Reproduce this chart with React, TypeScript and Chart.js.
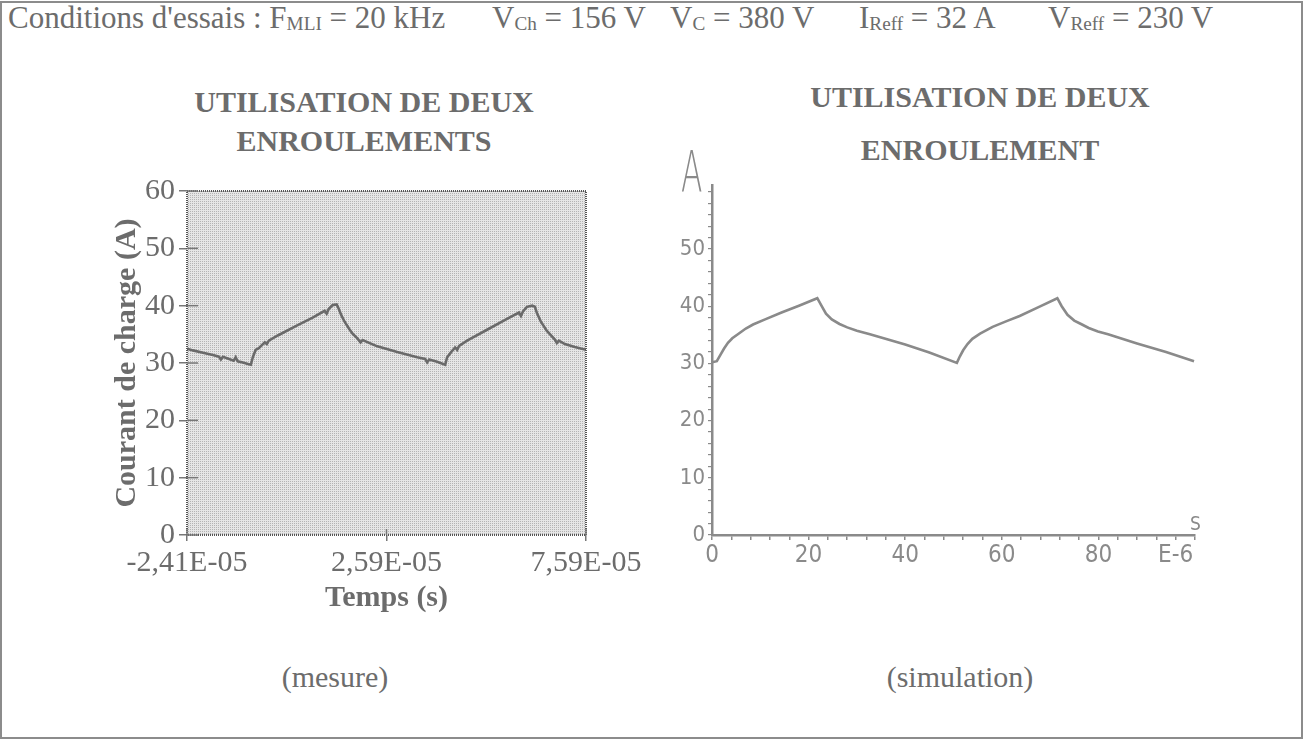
import React, { useEffect, useRef } from "react";
import { Chart, registerables } from "chart.js";

Chart.register(...registerables);

// ---------- Data: measured current (left), time in µs ----------
const measTime = [
  -24.1, -22.6, -20.1, -17.6, -16.1, -15.6, -15.1, -13.9, -12.4, -11.9, -11.4, -10.1, -8.6, -8.1,
  -7.6, -6.9, -6.1, -4.6, -4.1, -3.6, -1.35, 3.65, 7.4, 10.4, 10.9, 11.4, 12.4, 13.4, 13.9, 14.6,
  15.4, 16.6, 17.4, 18.6, 19.4, 19.9, 23.6, 28.6, 33.6, 35.6, 36.1, 36.6, 38.6, 40.6, 41.1, 42.1,
  43.1, 43.6, 44.1, 46.1, 51.1, 56.1, 59.1, 59.6, 60.1, 61.1, 62.4, 63.1, 63.6, 64.6, 66.1, 68.1,
  68.6, 69.1, 70.6, 73.1, 75.9,
];
const measCurrent = [
  32.5, 32.2, 31.8, 31.4, 31.1, 30.6, 31.1, 30.8, 30.4, 31.0, 30.3, 30.1, 29.8, 29.7,
  31.0, 32.3, 32.6, 33.6, 33.3, 33.9, 34.8, 36.6, 37.9, 39.1, 38.6, 39.4, 40.1, 40.2, 39.5, 38.3,
  37.2, 35.9, 35.1, 34.3, 33.6, 34.0, 32.9, 31.9, 31.0, 30.7, 30.1, 30.6, 30.2, 29.7, 31.0, 31.9,
  32.7, 32.3, 33.0, 33.9, 35.8, 37.7, 38.8, 38.2, 39.0, 39.8, 40.0, 39.8, 38.7, 37.2, 35.6, 34.1,
  33.5, 33.9, 33.3, 32.8, 32.3,
];
const measXTicks = [-24.1, 25.9, 75.9];
const measXTickLabels = ["-2,41E-05", "2,59E-05", "7,59E-05"];
const measYTicks = [0, 10, 20, 30, 40, 50, 60];

// ---------- Data: simulated current (right), time in µs ----------
const simTime = [
  0, 1, 1.8, 2.5, 3.3, 4.2, 5.5, 7, 8.5, 11, 14.4, 18, 21.8, 22.6, 23.6, 24.8, 26.4, 28, 30, 32.7,
  40, 45, 50.7, 51.3, 52, 52.9, 53.9, 55.5, 58.1, 61, 63.7, 67.5, 71.5, 72.4, 73.6, 75, 76.4, 78,
  79.9, 82, 88, 94, 99.8,
];
const simCurrent = [
  30.2, 30.4, 31.6, 32.6, 33.6, 34.4, 35.2, 36.1, 36.8, 37.7, 38.9, 40.1, 41.4, 40.2, 38.7, 37.7,
  36.9, 36.3, 35.7, 35.1, 33.3, 31.9, 30.1, 31.2, 32.3, 33.4, 34.3, 35.2, 36.4, 37.4, 38.3, 39.8,
  41.4, 40.0, 38.5, 37.5, 36.9, 36.2, 35.6, 35.1, 33.5, 32.0, 30.4,
];
const simXTicks = [0, 4, 8, 12, 16, 20, 24, 28, 32, 36, 40, 44, 48, 52, 56, 60, 64, 68, 72, 76, 80, 84, 88, 92, 96, 100];
const simXTickLabels: Record<number, string> = { 0: "0", 20: "20", 40: "40", 60: "60", 80: "80", 96: "E-6" };
const simYTicks = [0, 2, 4, 6, 8, 10, 12, 14, 16, 18, 20, 22, 24, 26, 28, 30, 32, 34, 36, 38, 40, 42, 44, 46, 48, 50, 52, 54, 56, 58, 60];
const simYTickLabels: Record<number, string> = { 0: "0", 10: "10", 20: "20", 30: "30", 40: "40", 50: "50" };

const SERIF = "'Liberation Serif', 'Times New Roman', serif";
const SANS = "'DejaVu Sans Condensed', 'DejaVu Sans', sans-serif";
const TXT = "#6c6c6c";
const SIM = "#8a8a8a";

const patternBg = {
  id: "patternBg",
  beforeDraw(chart: any) {
    const { ctx, chartArea } = chart;
    const tile = document.createElement("canvas");
    tile.width = 2;
    tile.height = 2;
    const t = tile.getContext("2d")!;
    t.fillStyle = "#e6e6e6";
    t.fillRect(0, 0, 2, 2);
    t.fillStyle = "#b4b4b4";
    t.fillRect(0, 0, 1, 1);
    const pat = ctx.createPattern(tile, "repeat");
    ctx.save();
    ctx.fillStyle = pat;
    ctx.fillRect(chartArea.left, chartArea.top, chartArea.right - chartArea.left, chartArea.bottom - chartArea.top);
    ctx.restore();
  },
  afterDraw(chart: any) {
    const { ctx, chartArea } = chart;
    ctx.save();
    ctx.strokeStyle = "#555";
    ctx.lineWidth = 2;
    ctx.setLineDash([1, 1]);
    ctx.strokeRect(chartArea.left, chartArea.top, chartArea.right - chartArea.left, chartArea.bottom - chartArea.top);
    ctx.setLineDash([]);
    ctx.strokeStyle = "#777";
    ctx.lineWidth = 1.5;
    const x = chart.scales.x;
    const y = chart.scales.y;
    y.ticks.forEach((tk: any) => {
      const p = y.getPixelForValue(tk.value);
      ctx.beginPath();
      ctx.moveTo(chartArea.left, p);
      ctx.lineTo(chartArea.left + 11, p);
      ctx.stroke();
    });
    x.ticks.forEach((tk: any) => {
      const p = x.getPixelForValue(tk.value);
      ctx.beginPath();
      ctx.moveTo(p, chartArea.bottom);
      ctx.lineTo(p, chartArea.bottom - 6);
      ctx.stroke();
    });
    ctx.restore();
  },
};

function MeasChart() {
  const ref = useRef<HTMLCanvasElement>(null);
  useEffect(() => {
    const chart = new Chart(ref.current!, {
      type: "line",
      data: {
        datasets: [
          {
            data: measTime.map((t, i) => ({ x: t, y: measCurrent[i] })),
            borderColor: "#6a6a6a",
            borderWidth: 2.6,
            pointRadius: 0,
            tension: 0,
          },
        ],
      },
      plugins: [patternBg],
      options: {
        animation: false,
        responsive: false,
        maintainAspectRatio: false,
        layout: { padding: { top: 18, right: 74, left: 0, bottom: 0 } },
        plugins: { legend: { display: false }, tooltip: { enabled: false } },
        scales: {
          x: {
            type: "linear",
            min: -24.1,
            max: 75.9,
            afterBuildTicks: (s: any) => {
              s.ticks = measXTicks.map((v) => ({ value: v }));
            },
            afterFit: (s: any) => {
              s.height = 95;
            },
            grid: { drawOnChartArea: false, drawTicks: true, tickLength: 6, color: "#777", lineWidth: 1.5 },
            border: { display: false },
            ticks: {
              autoSkip: false,
              maxRotation: 0,
              padding: 4,
              color: TXT,
              font: { family: SERIF, size: 30 },
              callback: (_v: any, i: number) => measXTickLabels[i],
            },
            title: {
              display: true,
              text: "Temps (s)",
              color: TXT,
              font: { family: SERIF, size: 30, weight: "bold" },
              padding: { top: 0, bottom: 14 },
            },
          },
          y: {
            type: "linear",
            min: 0,
            max: 60,
            afterBuildTicks: (s: any) => {
              s.ticks = measYTicks.map((v) => ({ value: v }));
            },
            afterFit: (s: any) => {
              s.width = 127;
            },
            grid: { drawOnChartArea: false, drawTicks: true, tickLength: 8, color: "#777", lineWidth: 1.5 },
            border: { display: false },
            ticks: {
              padding: 4,
              color: TXT,
              font: { family: SERIF, size: 30 },
            },
            title: {
              display: true,
              text: "Courant de charge (A)",
              color: TXT,
              font: { family: SERIF, size: 30, weight: "bold" },
              padding: { top: 49, bottom: 0 },
            },
          },
        },
      },
    } as any);
    return () => chart.destroy();
  }, []);
  return (
    <canvas
      ref={ref}
      width={600}
      height={461}
      style={{ position: "absolute", left: 60, top: 169, width: 600, height: 461 }}
    />
  );
}

function SimChart() {
  const ref = useRef<HTMLCanvasElement>(null);
  useEffect(() => {
    const chart = new Chart(ref.current!, {
      type: "line",
      data: {
        datasets: [
          {
            data: simTime.map((t, i) => ({ x: t, y: simCurrent[i] })),
            borderColor: SIM,
            borderWidth: 2.6,
            pointRadius: 0,
            tension: 0,
          },
        ],
      },
      options: {
        animation: false,
        responsive: false,
        maintainAspectRatio: false,
        layout: { padding: { top: 45, right: 35, left: 0, bottom: 0 } },
        plugins: { legend: { display: false }, tooltip: { enabled: false } },
        scales: {
          x: {
            type: "linear",
            min: 0,
            max: 100,
            afterBuildTicks: (s: any) => {
              s.ticks = simXTicks.map((v) => ({ value: v }));
            },
            afterFit: (s: any) => {
              s.height = 55;
            },
            grid: { drawOnChartArea: false, drawTicks: true, tickLength: 5, color: SIM, lineWidth: 1.5 },
            border: { display: true, color: SIM, width: 2.5 },
            ticks: {
              autoSkip: false,
              maxRotation: 0,
              padding: 1,
              color: SIM,
              font: { family: SANS, size: 24 },
              callback: (v: any) => simXTickLabels[v] ?? "",
            },
          },
          y: {
            type: "linear",
            min: 0,
            max: 61.2,
            afterBuildTicks: (s: any) => {
              s.ticks = simYTicks.map((v) => ({ value: v }));
            },
            afterFit: (s: any) => {
              s.width = 72;
            },
            grid: { drawOnChartArea: false, drawTicks: true, tickLength: 4, color: SIM, lineWidth: 1.2 },
            border: { display: true, color: SIM, width: 2.5 },
            ticks: {
              autoSkip: false,
              padding: 3,
              color: SIM,
              font: { family: SANS, size: 22 },
              callback: (v: any) => simYTickLabels[v] ?? "",
            },
          },
        },
      },
    } as any);
    return () => chart.destroy();
  }, []);
  return (
    <canvas
      ref={ref}
      width={590}
      height={450}
      style={{ position: "absolute", left: 640, top: 140, width: 590, height: 450 }}
    />
  );
}

const abs = (s: React.CSSProperties): React.CSSProperties => ({
  position: "absolute",
  whiteSpace: "nowrap",
  lineHeight: "30px",
  ...s,
});

const sub: React.CSSProperties = { fontSize: "0.62em", verticalAlign: "-0.12em" };

export default function App() {
  const headerFont: React.CSSProperties = { fontFamily: SERIF, fontSize: 31, color: TXT, top: 3 };
  const titleFont: React.CSSProperties = { fontFamily: SERIF, fontSize: 30, fontWeight: "bold", color: TXT, textAlign: "center", width: 500 };
  return (
    <div style={{ position: "absolute", left: 0, top: 0, width: 1306, height: 741, background: "#fff", overflow: "hidden" }}>
      <div style={{ position: "absolute", left: 0, top: 1, width: 1299, height: 734, border: "2px solid #8c8c8c" }} />
      <span style={abs({ ...headerFont, left: 8 })}>
        Conditions d'essais : F<span style={sub}>MLI</span> = 20 kHz
      </span>
      <span style={abs({ ...headerFont, left: 492 })}>
        V<span style={sub}>Ch</span> = 156 V
      </span>
      <span style={abs({ ...headerFont, left: 670 })}>
        V<span style={sub}>C</span> = 380 V
      </span>
      <span style={abs({ ...headerFont, left: 859 })}>
        I<span style={sub}>Reff</span> = 32 A
      </span>
      <span style={abs({ ...headerFont, left: 1048 })}>
        V<span style={sub}>Reff</span> = 230 V
      </span>

      <div style={abs({ ...titleFont, left: 114, top: 87 })}>UTILISATION DE DEUX</div>
      <div style={abs({ ...titleFont, left: 114, top: 126 })}>ENROULEMENTS</div>
      <div style={abs({ ...titleFont, left: 730, top: 82 })}>UTILISATION DE DEUX</div>
      <div style={abs({ ...titleFont, left: 730, top: 135 })}>ENROULEMENT</div>

      <MeasChart />
      <SimChart />

      <span
        style={abs({
          left: 681,
          top: 144,
          fontFamily: "'DejaVu Sans', sans-serif",
          fontWeight: 200,
          fontSize: 57,
          lineHeight: "57px",
          color: SIM,
          transform: "scaleX(0.55)",
          transformOrigin: "left top",
        })}
      >
        A
      </span>
      <span style={abs({ left: 1190, top: 512, fontFamily: SANS, fontSize: 19, lineHeight: "22px", color: SIM })}>S</span>

      <div style={abs({ left: 135, width: 400, top: 662, textAlign: "center", fontFamily: SERIF, fontSize: 30, color: TXT })}>(mesure)</div>
      <div style={abs({ left: 760, width: 400, top: 662, textAlign: "center", fontFamily: SERIF, fontSize: 30, color: TXT })}>(simulation)</div>
    </div>
  );
}
